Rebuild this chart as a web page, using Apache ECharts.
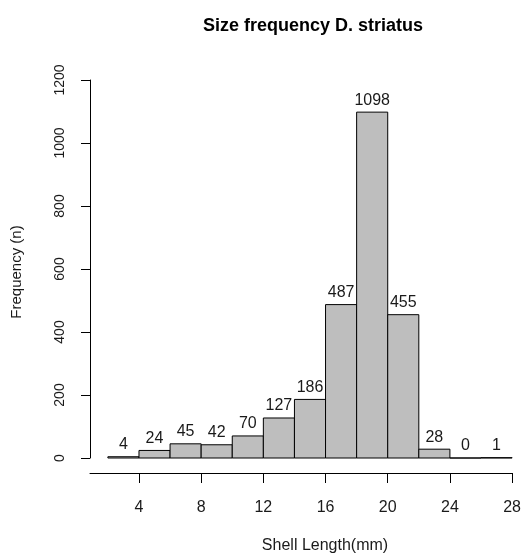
<!DOCTYPE html>
<html>
<head>
<meta charset="utf-8">
<script src="https://cdn.jsdelivr.net/npm/echarts@6/dist/echarts.min.js"></script>
<style>html,body{margin:0;padding:0;background:#fff}#c{width:524px;height:555px}</style>
</head>
<body>
<div id="c"></div>
<script>
// Histogram bins (shell length, mm) and counts
const binStarts = [2, 4, 6, 8, 10, 12, 14, 16, 18, 20, 22, 24, 26];
const binEnds   = [4, 6, 8, 10, 12, 14, 16, 18, 20, 22, 24, 26, 28];
const counts    = [4, 24, 45, 42, 70, 127, 186, 487, 1098, 455, 28, 0, 1];
const xTicks = [4, 8, 12, 16, 20, 24, 28];
const yTicks = [0, 200, 400, 600, 800, 1000, 1200];

const FONT = 'Liberation Sans, Arial, sans-serif';
const data = binStarts.map((s, i) => [s, binEnds[i], counts[i]]);

const chart = echarts.init(document.getElementById('c'), null, {renderer: 'canvas'});
chart.setOption({
  backgroundColor: '#ffffff',
  animation: false,
  grid: {left: 90, right: 10, top: 80, bottom: 97},
  xAxis: {
    type: 'value', min: 0.85, max: 28, offset: 15,
    splitLine: {show: false},
    axisLine: {show: true, onZero: false, lineStyle: {color: '#000', width: 1}},
    axisTick: {show: true, length: 10, customValues: xTicks, lineStyle: {color: '#000'}},
    axisLabel: {customValues: xTicks, margin: 27, color: '#1a1a1a', fontSize: 16, fontFamily: FONT}
  },
  yAxis: {
    type: 'value', min: 0, max: 1200, interval: 200,
    splitLine: {show: false},
    axisLine: {show: true, onZero: false, lineStyle: {color: '#000', width: 1}},
    axisTick: {show: true, length: 9, customValues: yTicks, lineStyle: {color: '#000'}},
    axisLabel: {customValues: yTicks, rotate: 90, margin: 23, color: '#1a1a1a', fontSize: 14, fontFamily: FONT,
                formatter: function (v) { return String(v); }}
  },
  graphic: [
    {type: 'text', x: 313, y: 26, style: {text: 'Size frequency D. striatus', font: 'bold 18px ' + FONT, fill: '#000', textAlign: 'center', textVerticalAlign: 'middle'}},
    {type: 'text', x: 325, y: 546, style: {text: 'Shell Length(mm)', font: '16px ' + FONT, fill: '#1a1a1a', textAlign: 'center', textVerticalAlign: 'middle'}},
    {type: 'text', x: 17, y: 272, rotation: Math.PI / 2, style: {text: 'Frequency (n)', font: '15px ' + FONT, fill: '#1a1a1a', textAlign: 'center', textVerticalAlign: 'middle'}}
  ],
  series: [{
    type: 'custom',
    data: data,
    encode: {x: [0, 1], y: 2},
    renderItem: function (params, api) {
      const p0 = api.coord([api.value(0), 0]);
      const p1 = api.coord([api.value(1), api.value(2)]);
      const mid = (p0[0] + p1[0]) / 2;
      return {
        type: 'group',
        children: [
          {type: 'rect', shape: {x: p0[0], y: p1[1], width: p1[0] - p0[0], height: p0[1] - p1[1]},
           style: {fill: '#bebebe', stroke: '#000', lineWidth: 1}},
          {type: 'text', x: mid, y: p1[1] - 4,
           style: {text: String(api.value(2)), font: '16px ' + FONT, fill: '#1a1a1a', textAlign: 'center', textVerticalAlign: 'bottom'}}
        ]
      };
    }
  }]
});
</script>
</body>
</html>
